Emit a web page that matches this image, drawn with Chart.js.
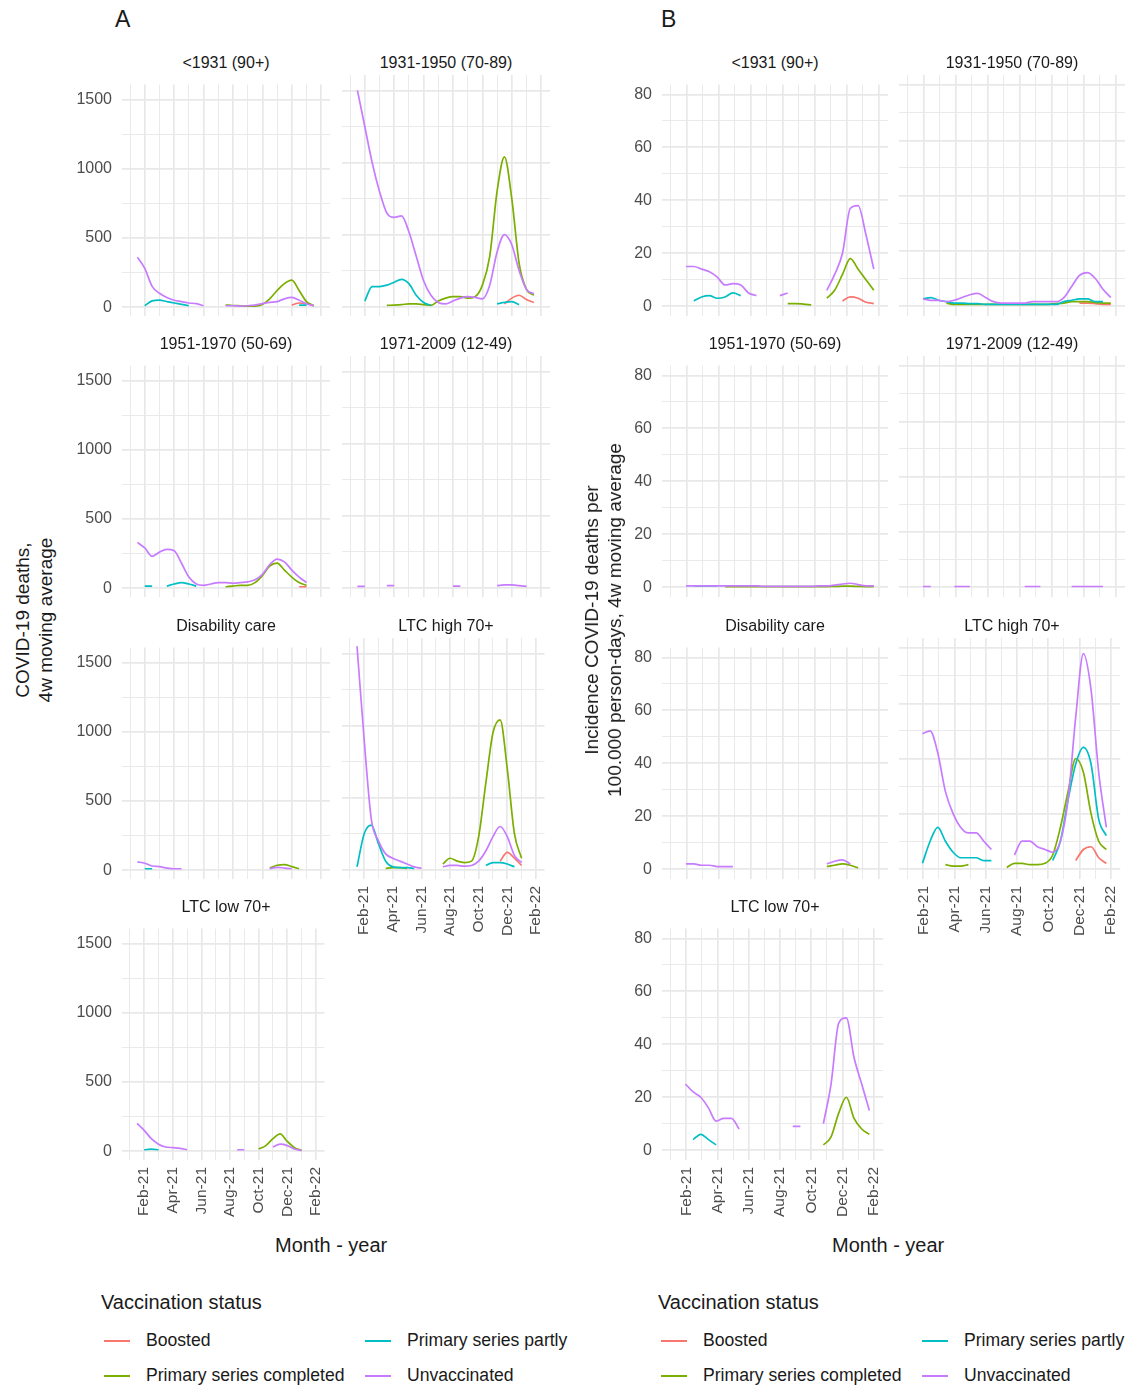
<!DOCTYPE html>
<html><head><meta charset="utf-8">
<script src="https://cdn.jsdelivr.net/npm/chart.js@4"></script>
<style>
body{margin:0;background:#fff;font-family:"Liberation Sans",Arial,sans-serif;color:#1a1a1a}
#root{position:relative;width:1133px;height:1388px;overflow:hidden}
.abs{position:absolute;white-space:nowrap}
.ft{font-size:16px;color:#1a1a1a;text-align:center}
.lg{font-size:17.6px}
.sw{position:absolute;height:2px;width:26px}
</style></head><body><div id="root"></div>
<script>
const _ = null;
// month index: Jan-21 = 0, Feb-21 = 1 ... Feb-22 = 13
const MONTH_TICKS = [0,1,2,3,4,5,6,7,8,9,10,11,12,13];
const MONTH_LABELS = ['','Feb-21','','Apr-21','','Jun-21','','Aug-21','','Oct-21','','Dec-21','','Feb-22'];
const X_A = [0.5,1,1.5,2,2.5,3,3.5,4,4.5,5,5.5,6,6.5,7,7.5,8,8.5,9,9.5,10,10.5,11,11.5,12,12.5];
const X_B = [0.95,1.44,1.93,2.42,2.91,3.40,3.89,4.38,4.87,5.36,5.85,6.34,6.83,7.32,7.81,8.30,8.79,9.28,9.77,10.26,10.75,11.24,11.73,12.22,12.71];
const Y_TICKS_A = [0,250,500,750,1000,1250,1500];
const Y_TICKS_B = [0,10,20,30,40,50,60,70,80];
const FACETS = ['<1931 (90+)','1931-1950 (70-89)','1951-1970 (50-69)','1971-2009 (12-49)','Disability care','LTC high 70+','LTC low 70+'];
const SERIES = ['Boosted','Primary series completed','Primary series partly','Unvaccinated'];
const COLORS = ['#F8766D','#7CAE00','#00BFC4','#C77CFF'];

// Panel A: deaths, 4w moving average
const A1_boost=[_,_,_,_,_,_,_,_,_,_,_,_,_,_,_,_,_,_,_,_,_,15,30,25,10];
const A1_compl=[_,_,_,_,_,_,_,_,_,_,_,_,15,12,10,8,8,20,60,120,170,195,120,40,10];
const A1_partly=[_,10,45,50,40,30,20,10,_,_,_,_,_,_,_,_,_,_,_,_,_,_,15,15,_];
const A1_unvac=[360,280,150,100,70,50,40,30,25,10,_,_,10,10,8,10,15,25,35,40,60,70,50,25,10];

const A2_boost=[_,_,_,_,_,_,_,_,_,_,_,_,_,_,_,_,_,_,_,_,20,60,80,50,30];
const A2_compl=[_,_,_,_,10,12,15,20,20,15,10,40,60,70,70,60,70,150,350,800,1040,750,300,120,80];
const A2_partly=[_,40,140,140,150,170,190,160,80,30,10,_,_,_,_,_,_,_,_,20,30,35,15,_,_];
const A2_unvac=[1500,1250,1000,800,650,620,630,520,350,180,80,30,20,40,60,70,65,55,150,380,500,430,250,120,90];

const A3_boost=[_,_,_,_,_,_,_,_,_,_,_,_,_,_,_,_,_,_,_,_,_,_,10,10,_];
const A3_compl=[_,_,_,_,_,_,_,_,_,_,_,_,10,15,20,20,40,90,160,180,130,80,40,20,_];
const A3_partly=[_,15,15,_,15,30,40,30,15,_,_,_,_,_,_,_,_,_,_,_,_,_,_,_,_];
const A3_unvac=[330,290,230,260,280,270,180,80,30,20,30,40,40,35,40,45,60,100,170,210,190,130,80,40,_];

const A4_boost=[_,_,_,_,_,_,_,_,_,_,_,_,_,_,_,_,_,_,_,_,_,_,_,_,_];
const A4_compl=[_,_,_,_,_,_,_,_,_,_,_,_,_,_,_,_,_,_,_,_,_,_,_,_,_];
const A4_partly=[_,_,_,_,_,_,_,_,_,_,_,_,_,_,_,_,_,_,_,_,_,_,_,_,_];
const A4_unvac=[10,10,_,_,15,15,_,_,_,_,_,_,_,12,12,_,_,_,_,15,20,20,15,10,_];

const A5_boost=[_,_,_,_,_,_,_,_,_,_,_,_,_,_,_,_,_,_,_,_,_,_,_,_,_];
const A5_compl=[_,_,_,_,_,_,_,_,_,_,_,_,_,_,_,_,_,_,15,35,40,25,10,_,_];
const A5_partly=[_,10,10,_,_,_,_,_,_,_,_,_,_,_,_,_,_,_,_,_,_,_,_,_,_];
const A5_unvac=[60,50,30,25,15,10,10,_,_,_,_,_,_,_,_,_,_,_,10,20,15,10,_,_,_];

const A6_boost=[_,_,_,_,_,_,_,_,_,_,_,_,_,_,_,_,_,_,_,_,60,120,80,30,_];
const A6_compl=[_,_,_,_,10,15,15,10,_,_,_,_,40,80,60,50,60,230,600,950,1040,700,250,80,_];
const A6_partly=[20,250,310,180,60,20,15,15,10,_,_,_,_,_,_,_,_,_,30,50,50,40,20,_,_];
const A6_unvac=[1550,900,350,200,110,80,60,40,20,10,_,_,20,30,30,25,30,60,130,230,300,230,100,50,_];

const A7_boost=[_,_,_,_,_,_,_,_,_,_,_,_,_,_,_,_,_,_,_,_,_,_,_,_,_];
const A7_compl=[_,_,_,_,_,_,_,_,_,_,_,_,_,_,_,_,_,15,40,90,125,70,25,5,_];
const A7_partly=[_,10,15,10,_,_,_,_,_,_,_,_,_,_,_,_,_,_,_,_,_,_,_,_,_];
const A7_unvac=[200,150,90,50,30,25,20,10,_,_,_,_,_,_,10,10,_,_,_,30,50,40,15,5,_];

// Panel B: incidence per 100.000 person-days
const B1_boost=[_,_,_,_,_,_,_,_,_,_,_,_,_,_,_,_,_,_,_,_,2,3.5,3,1.5,1];
const B1_compl=[_,_,_,_,_,_,_,_,_,_,_,_,_,1,1,0.8,0.5,_,3,6,12,18,14,10,6];
const B1_partly=[_,2,3.5,4,3,3.5,5,4,_,_,_,_,_,_,_,_,_,_,_,_,_,_,_,_,_];
const B1_unvac=[15,15,14,13,11,8,8.5,8,5,4,_,_,4,5,_,_,_,_,6,12,20,37,38,27,14];

const B2_boost=[_,_,_,_,_,_,_,_,_,_,_,_,_,_,_,_,_,_,_,_,1,1,0.8,0.5,0.5];
const B2_compl=[_,_,_,1,0.5,0.5,0.5,0.5,0.5,0.5,0.5,0.5,0.5,0.5,0.5,0.5,0.5,0.8,1,1.5,1.5,1.5,1.2,1,1];
const B2_partly=[2.5,3,2,1.5,1,1,0.8,0.8,0.5,0.5,0.5,0.5,0.5,0.5,0.5,0.5,0.5,0.5,1.5,2,2.5,2.5,1.5,1.5,_];
const B2_unvac=[2.5,2,2,1.5,2,3,4,4.5,3,1.5,1,1,1,1,1.5,1.5,1.5,1.5,3,7,11,12,10,6,3];

const B3_boost=[_,_,_,_,_,_,_,_,_,_,_,_,_,_,_,_,_,_,_,_,_,_,_,_,_];
const B3_compl=[_,_,_,_,_,0.2,0.2,0.2,0.2,0.2,0.2,0.2,0.2,0.2,0.2,0.2,0.2,0.2,0.2,0.3,0.4,0.4,0.3,0.2,0.2];
const B3_partly=[_,0.5,0.5,0.5,0.5,_,_,_,_,_,_,_,_,_,_,_,_,_,_,_,_,_,_,_,_];
const B3_unvac=[0.5,0.5,0.5,0.5,0.5,0.5,0.5,0.5,0.5,0.5,0.3,0.3,0.3,0.3,0.3,0.3,0.3,0.5,0.5,0.8,1.2,1.5,1,0.5,0.5];

const B4_boost=[_,_,_,_,_,_,_,_,_,_,_,_,_,_,_,_,_,_,_,_,_,_,_,_,_];
const B4_compl=[_,_,_,_,_,_,_,_,_,_,_,_,_,_,_,_,_,_,_,_,_,_,_,_,_];
const B4_partly=[_,_,_,_,_,_,_,_,_,_,_,_,_,_,_,_,_,_,_,_,_,_,_,_,_];
const B4_unvac=[0.1,0.1,_,_,0.1,0.1,0.1,_,_,_,_,_,_,0.1,0.1,0.1,_,_,_,0.1,0.1,0.1,0.1,0.1,_];

const B5_boost=[_,_,_,_,_,_,_,_,_,_,_,_,_,_,_,_,_,_,_,_,_,_,_,_,_];
const B5_compl=[_,_,_,_,_,_,_,_,_,_,_,_,_,_,_,_,_,_,1,1.5,2,1.5,0.5,_,_];
const B5_partly=[_,_,_,_,_,_,_,_,_,_,_,_,_,_,_,_,_,_,_,_,_,_,_,_,_];
const B5_unvac=[2,2,1.5,1.5,1,1,1,_,_,_,_,_,_,_,_,_,_,_,2,3,3.5,2,_,_,_];

const B6_boost=[_,_,_,_,_,_,_,_,_,_,_,_,_,_,_,_,_,_,_,_,3,7,8,4,2];
const B6_compl=[_,_,_,1.5,1,1,1.5,_,_,_,_,0.5,2,2,1.5,1.5,2,5,15,28,40,35,20,10,7];
const B6_partly=[2,10,15,10,6,4,4,4,3,3,_,_,_,_,_,_,_,3,10,25,38,44,38,18,12];
const B6_unvac=[49,50,42,28,20,15,13,13,10,7,_,_,5,10,10,8,7,6,10,25,55,78,65,35,15];

const B7_boost=[_,_,_,_,_,_,_,_,_,_,_,_,_,_,_,_,_,_,_,_,_,_,_,_,_];
const B7_compl=[_,_,_,_,_,_,_,_,_,_,_,_,_,_,_,_,_,_,2,5,14,20,12,8,6];
const B7_partly=[_,4,6,4,2,_,_,_,_,_,_,_,_,_,_,_,_,_,_,_,_,_,_,_,_];
const B7_unvac=[25,22,20,16,11,12,12,8,_,_,_,_,_,_,9,9,_,_,10,25,48,50,35,25,15];

const A_DATA=[[A1_boost,A1_compl,A1_partly,A1_unvac],[A2_boost,A2_compl,A2_partly,A2_unvac],[A3_boost,A3_compl,A3_partly,A3_unvac],[A4_boost,A4_compl,A4_partly,A4_unvac],[A5_boost,A5_compl,A5_partly,A5_unvac],[A6_boost,A6_compl,A6_partly,A6_unvac],[A7_boost,A7_compl,A7_partly,A7_unvac]];
const B_DATA=[[B1_boost,B1_compl,B1_partly,B1_unvac],[B2_boost,B2_compl,B2_partly,B2_unvac],[B3_boost,B3_compl,B3_partly,B3_unvac],[B4_boost,B4_compl,B4_partly,B4_unvac],[B5_boost,B5_compl,B5_partly,B5_unvac],[B6_boost,B6_compl,B6_partly,B6_unvac],[B7_boost,B7_compl,B7_partly,B7_unvac]];

const root=document.getElementById('root');
function addText(txt,x,y,cls,style){const d=document.createElement('div');d.className='abs '+(cls||'');d.textContent=txt;d.style.left=x+'px';d.style.top=y+'px';if(style)Object.assign(d.style,style);root.appendChild(d);return d;}

const ROW_TOPS=[82,363,645,926];
const PH=234, YW=48, XH=62, PADT=10, PADR=12, EXTRA=7;
function facet(panel, idx){
  const isA = panel==='A';
  const colL = isA ? [122,342] : [662,899];
  const PW = isA ? 208 : 226;
  const col = idx%2, row = Math.floor(idx/2);
  const left = colL[col], top = ROW_TOPS[row];
  const bottom = (idx===5 || idx===6);
  addText(FACETS[idx], left, top-28, 'ft', {width:PW+'px'});
  const div=document.createElement('div');
  div.className='abs';
  div.style.left=(left-YW)+'px'; div.style.top=(top-PADT-EXTRA)+'px';
  div.style.width=(YW+PW+PADR)+'px'; div.style.height=(PADT+EXTRA+PH+XH)+'px';
  const cv=document.createElement('canvas'); div.appendChild(cv); root.appendChild(div);
  const xs = isA ? X_A : X_B;
  const data = isA ? A_DATA[idx] : B_DATA[idx];
  const yT = isA ? Y_TICKS_A : Y_TICKS_B;
  const datasets = SERIES.map((s,k)=>({label:s,data:xs.map((x,i)=>({x:x,y:data[k][i]})),borderColor:COLORS[k],borderWidth:1.7,pointRadius:0,cubicInterpolationMode:'monotone',spanGaps:false,fill:false,order:4-k}));
  new Chart(cv,{type:'line',data:{datasets},options:{
    responsive:true,maintainAspectRatio:false,animation:false,
    layout:{padding:{top:PADT,right:PADR,left:0,bottom:0}},
    plugins:{legend:{display:false},tooltip:{enabled:false}},
    scales:{
      x:{type:'linear',min:-0.55,max:13.6,
        afterBuildTicks:s=>{s.ticks=MONTH_TICKS.map(v=>({value:v}));},
        afterFit:s=>{s.height=XH;},
        grid:{color:'#e8e8e8',lineWidth:c=>(c.tick&&c.tick.value%2===1)?1.7:0.9,drawTicks:false},
        border:{display:false},
        ticks:{display:bottom,autoSkip:false,maxRotation:90,minRotation:90,padding:7,color:'#4d4d4d',font:{size:15.5,family:'Liberation Sans'},
          callback:v=>MONTH_LABELS[v]||''}},
      y:{min:isA?-64:-3.7,max:isA?1607:83.7,
        afterBuildTicks:s=>{s.ticks=yT.map(v=>({value:v}));},
        afterFit:s=>{s.width=YW;},
        grid:{color:'#e8e8e8',lineWidth:c=>(c.tick&&c.tick.value%(isA?500:20)===0)?1.7:0.9,drawTicks:false},
        border:{display:false},
        ticks:{display:col===0,padding:10,color:'#4d4d4d',font:{size:16,family:'Liberation Sans'},
          callback:v=>(v%(isA?500:20)===0)?String(v):''}}
    }}});
}
for(let i=0;i<7;i++){facet('A',i);facet('B',i);}

addText('A',115,6,'',{fontSize:'23px'});
addText('B',661,6,'',{fontSize:'23px'});
addText('COVID-19 deaths,\n4w moving average',34,620,'',{fontSize:'19px',whiteSpace:'pre',textAlign:'center',lineHeight:'23px',transform:'translate(-50%,-50%) rotate(-90deg)'});
addText('Incidence COVID-19 deaths per\n100.000 person-days, 4w moving average',603,620,'',{fontSize:'19px',whiteSpace:'pre',textAlign:'center',lineHeight:'23px',transform:'translate(-50%,-50%) rotate(-90deg)'});
addText('Month - year',275,1234,'',{fontSize:'20px'});
addText('Month - year',832,1234,'',{fontSize:'20px'});
[[0,101],[1,658]].forEach(([p,x0])=>{
  addText('Vaccination status',x0,1291,'',{fontSize:'20px'});
  const cells=[[x0+3,1341],[x0+264,1341],[x0+3,1376],[x0+264,1376]];
  [0,2,1,3].forEach((k,j)=>{
    const [cx,cy]=cells[j];
    const s=document.createElement('div');s.className='sw';s.style.left=cx+'px';s.style.top=(cy-1)+'px';s.style.background=COLORS[k];root.appendChild(s);
    addText(SERIES[k],cx+42,cy-11,'lg');
  });
});
</script></body></html>
